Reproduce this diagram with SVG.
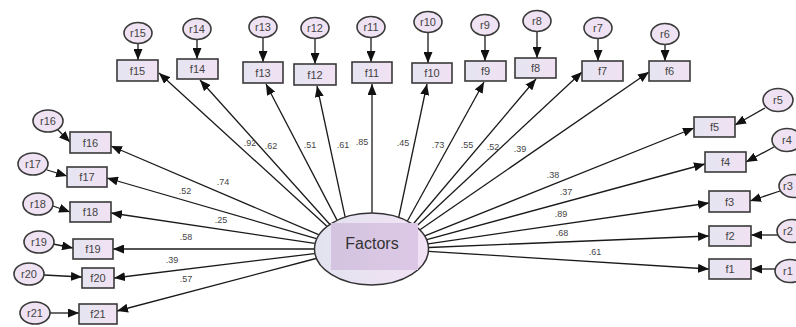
<svg xmlns="http://www.w3.org/2000/svg" width="796" height="327" viewBox="0 0 796 327">
<defs>
<linearGradient id="gBox" x1="0" y1="0" x2="1" y2="0">
<stop offset="0" stop-color="#e5e5f1"/><stop offset="1" stop-color="#f1e1f3"/>
</linearGradient>
<linearGradient id="gEll" x1="0" y1="0" x2="1" y2="0">
<stop offset="0" stop-color="#e2e3ef"/><stop offset="1" stop-color="#f2e2f5"/>
</linearGradient>
<linearGradient id="gRect" x1="0" y1="0" x2="1" y2="0">
<stop offset="0" stop-color="#d4c4e0"/><stop offset="1" stop-color="#dcc8e6"/>
</linearGradient>
<marker id="ah" markerUnits="userSpaceOnUse" markerWidth="12" markerHeight="9" refX="11" refY="4.5" orient="auto">
<path d="M0,0 L11,4.5 L0,9 z" fill="#111"/>
</marker>
</defs>
<style>
.bx{fill:url(#gBox);stroke:#3a3a3a;stroke-width:1.6}
.ci{fill:#efe3f3;stroke:#3a3a3a;stroke-width:1.6}
.t{font-family:"Liberation Sans",Arial,sans-serif;font-size:11px;fill:#444;text-anchor:middle}
.lb{font-family:"Liberation Sans",Arial,sans-serif;font-size:9px;fill:#444;text-anchor:middle}
.c line{stroke:#1a1a1a;stroke-width:1.3;marker-end:url(#ah)}
</style>

<g id="connectors" class="c">
<line x1="326.9" y1="226.2" x2="159" y2="73"/>
<line x1="329.7" y1="224.2" x2="200" y2="80"/>
<line x1="337" y1="220.1" x2="266" y2="84"/>
<line x1="345.1" y1="216.9" x2="317" y2="86"/>
<line x1="372" y1="213" x2="372" y2="84"/>
<line x1="398.7" y1="217.5" x2="427" y2="84"/>
<line x1="407.3" y1="221.2" x2="484" y2="82"/>
<line x1="412.8" y1="224.5" x2="536" y2="79"/>
<line x1="415.9" y1="226.8" x2="582" y2="72"/>
<line x1="420" y1="229.7" x2="649" y2="72"/>
<line x1="424.2" y1="236.1" x2="694" y2="128"/>
<line x1="425.9" y1="239.8" x2="705" y2="164"/>
<line x1="428.1" y1="243.8" x2="709" y2="203"/>
<line x1="428.6" y1="247.5" x2="709" y2="236"/>
<line x1="428.6" y1="251.3" x2="709" y2="269"/>
<line x1="318.6" y1="234.7" x2="111" y2="146"/>
<line x1="316.4" y1="238.7" x2="107" y2="178"/>
<line x1="314.7" y1="243.4" x2="111" y2="213"/>
<line x1="314" y1="249" x2="113" y2="249"/>
<line x1="314.5" y1="253.6" x2="114" y2="278"/>
<line x1="316" y1="258.5" x2="117" y2="311"/>
<line x1="138" y1="43.5" x2="138" y2="60"/>
<line x1="197" y1="39.5" x2="197" y2="59"/>
<line x1="263" y1="37.5" x2="263" y2="62"/>
<line x1="315" y1="38.5" x2="315" y2="64"/>
<line x1="371" y1="37.5" x2="371" y2="62"/>
<line x1="428" y1="32.5" x2="428" y2="63"/>
<line x1="485" y1="35.5" x2="485" y2="61"/>
<line x1="537" y1="31.5" x2="537" y2="58"/>
<line x1="598" y1="38.5" x2="598" y2="61"/>
<line x1="665" y1="44.5" x2="665" y2="61"/>
<line x1="765" y1="108" x2="735" y2="125"/>
<line x1="774" y1="147" x2="746" y2="162"/>
<line x1="780" y1="191" x2="750" y2="201"/>
<line x1="778" y1="235" x2="751" y2="235"/>
<line x1="776" y1="269" x2="751" y2="269"/>
<line x1="57" y1="129" x2="70" y2="142"/>
<line x1="47" y1="170" x2="67" y2="176"/>
<line x1="53" y1="206" x2="70" y2="212"/>
<line x1="53" y1="244" x2="73" y2="248"/>
<line x1="44" y1="275" x2="82" y2="277"/>
<line x1="50" y1="313" x2="79" y2="313"/>
</g>

<g id="labels">
<text class="lb" x="250" y="146">.92</text>
<text class="lb" x="271" y="149">.62</text>
<text class="lb" x="310" y="148">.51</text>
<text class="lb" x="343" y="148">.61</text>
<text class="lb" x="362" y="145">.85</text>
<text class="lb" x="403" y="146">.45</text>
<text class="lb" x="438" y="148">.73</text>
<text class="lb" x="467" y="148">.55</text>
<text class="lb" x="493" y="150">.52</text>
<text class="lb" x="520" y="152">.39</text>
<text class="lb" x="553" y="178">.38</text>
<text class="lb" x="566" y="195">.37</text>
<text class="lb" x="561" y="217">.89</text>
<text class="lb" x="562" y="236">.68</text>
<text class="lb" x="595" y="255">.61</text>
<text class="lb" x="223" y="185">.74</text>
<text class="lb" x="185" y="194">.52</text>
<text class="lb" x="221" y="223">.25</text>
<text class="lb" x="186" y="240">.58</text>
<text class="lb" x="172" y="263">.39</text>
<text class="lb" x="186" y="282">.57</text>
</g>

<g id="Factors">
<ellipse cx="371.5" cy="249" rx="57" ry="36" fill="url(#gEll)" stroke="#333" stroke-width="1.5"/>
<rect x="331" y="223" width="87" height="47" fill="url(#gRect)"/>
<text x="372" y="249" font-family="'Liberation Sans',Arial,sans-serif" font-size="16" fill="#333" text-anchor="middle">Factors</text>
</g>

<g id="f15"><rect class="bx" x="117" y="60" width="41" height="21"/><text class="t" x="137.5" y="74.5">f15</text></g>
<g id="f14"><rect class="bx" x="177" y="59" width="41" height="20"/><text class="t" x="197.5" y="73">f14</text></g>
<g id="f13"><rect class="bx" x="243" y="62" width="40" height="21"/><text class="t" x="263" y="76.5">f13</text></g>
<g id="f12"><rect class="bx" x="294" y="64" width="42" height="21"/><text class="t" x="315" y="78.5">f12</text></g>
<g id="f11"><rect class="bx" x="352" y="62" width="40" height="21"/><text class="t" x="372" y="76.5">f11</text></g>
<g id="f10"><rect class="bx" x="412" y="63" width="40" height="20"/><text class="t" x="432" y="77">f10</text></g>
<g id="f9"><rect class="bx" x="465" y="61" width="41" height="20"/><text class="t" x="485.5" y="75">f9</text></g>
<g id="f8"><rect class="bx" x="515" y="58" width="41" height="20"/><text class="t" x="535.5" y="72">f8</text></g>
<g id="f7"><rect class="bx" x="582" y="61" width="41" height="20"/><text class="t" x="602.5" y="75">f7</text></g>
<g id="f6"><rect class="bx" x="649" y="61" width="41" height="20"/><text class="t" x="669.5" y="75">f6</text></g>
<g id="f5"><rect class="bx" x="694" y="117" width="41" height="20"/><text class="t" x="714.5" y="131">f5</text></g>
<g id="f4"><rect class="bx" x="705" y="152" width="41" height="20"/><text class="t" x="725.5" y="166">f4</text></g>
<g id="f3"><rect class="bx" x="709" y="191" width="41" height="21"/><text class="t" x="729.5" y="205.5">f3</text></g>
<g id="f2"><rect class="bx" x="709" y="226" width="42" height="20"/><text class="t" x="730" y="240">f2</text></g>
<g id="f1"><rect class="bx" x="709" y="259" width="42" height="20"/><text class="t" x="730" y="273">f1</text></g>
<g id="f16"><rect class="bx" x="70" y="132" width="41" height="21"/><text class="t" x="90.5" y="146.5">f16</text></g>
<g id="f17"><rect class="bx" x="67" y="167" width="40" height="20"/><text class="t" x="87" y="181">f17</text></g>
<g id="f18"><rect class="bx" x="70" y="202" width="41" height="20"/><text class="t" x="90.5" y="216">f18</text></g>
<g id="f19"><rect class="bx" x="73" y="239" width="40" height="20"/><text class="t" x="93" y="253">f19</text></g>
<g id="f20"><rect class="bx" x="82" y="268" width="32" height="20"/><text class="t" x="98" y="282">f20</text></g>
<g id="f21"><rect class="bx" x="79" y="304" width="38" height="20"/><text class="t" x="98" y="318">f21</text></g>

<g id="r15"><ellipse class="ci" cx="138" cy="33" rx="14" ry="10.5"/><text class="t" x="138" y="37">r15</text></g>
<g id="r14"><ellipse class="ci" cx="197" cy="29" rx="14" ry="10.5"/><text class="t" x="197" y="33">r14</text></g>
<g id="r13"><ellipse class="ci" cx="263" cy="27" rx="14" ry="10.5"/><text class="t" x="263" y="31">r13</text></g>
<g id="r12"><ellipse class="ci" cx="315" cy="28" rx="14" ry="10.5"/><text class="t" x="315" y="32">r12</text></g>
<g id="r11"><ellipse class="ci" cx="371" cy="27" rx="14" ry="10.5"/><text class="t" x="371" y="31">r11</text></g>
<g id="r10"><ellipse class="ci" cx="428" cy="22" rx="14" ry="10.5"/><text class="t" x="428" y="26">r10</text></g>
<g id="r9"><ellipse class="ci" cx="485" cy="25" rx="14" ry="10.5"/><text class="t" x="485" y="29">r9</text></g>
<g id="r8"><ellipse class="ci" cx="537" cy="21" rx="14" ry="10.5"/><text class="t" x="537" y="25">r8</text></g>
<g id="r7"><ellipse class="ci" cx="598" cy="28" rx="14" ry="10.5"/><text class="t" x="598" y="32">r7</text></g>
<g id="r6"><ellipse class="ci" cx="665" cy="34" rx="14" ry="10.5"/><text class="t" x="665" y="38">r6</text></g>
<g id="r5"><ellipse class="ci" cx="778" cy="100" rx="15" ry="11.5"/><text class="t" x="778" y="104">r5</text></g>
<g id="r4"><ellipse class="ci" cx="787" cy="140" rx="15" ry="11.5"/><text class="t" x="787" y="144">r4</text></g>
<g id="r3"><ellipse class="ci" cx="794" cy="186" rx="15" ry="11.5"/><text class="t" x="788" y="190">r3</text></g>
<g id="r2"><ellipse class="ci" cx="792" cy="231" rx="15" ry="11.5"/><text class="t" x="788" y="235">r2</text></g>
<g id="r1"><ellipse class="ci" cx="790" cy="271" rx="15" ry="11.5"/><text class="t" x="788" y="275">r1</text></g>
<g id="r16"><ellipse class="ci" cx="48" cy="121" rx="15" ry="11"/><text class="t" x="48" y="125">r16</text></g>
<g id="r17"><ellipse class="ci" cx="33" cy="164" rx="15" ry="11"/><text class="t" x="33" y="168">r17</text></g>
<g id="r18"><ellipse class="ci" cx="38" cy="204" rx="15" ry="11"/><text class="t" x="38" y="208">r18</text></g>
<g id="r19"><ellipse class="ci" cx="39" cy="242" rx="15" ry="11"/><text class="t" x="39" y="246">r19</text></g>
<g id="r20"><ellipse class="ci" cx="29" cy="274" rx="15" ry="11"/><text class="t" x="29" y="278">r20</text></g>
<g id="r21"><ellipse class="ci" cx="35" cy="313" rx="15" ry="11"/><text class="t" x="35" y="317">r21</text></g>
</svg>
